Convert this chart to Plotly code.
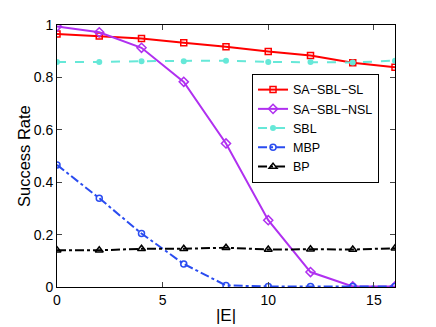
import plotly.graph_objects as go

E = [0, 2, 4, 6, 8, 10, 12, 14, 16]
sa_sbl_sl = [0.966, 0.958, 0.948, 0.932, 0.917, 0.899, 0.884, 0.856, 0.839]
sa_sbl_nsl = [0.994, 0.972, 0.913, 0.783, 0.548, 0.255, 0.057, 0.002, 0.002]
sbl = [0.859, 0.859, 0.862, 0.862, 0.864, 0.859, 0.859, 0.857, 0.864]
mbp = [0.466, 0.339, 0.204, 0.088, 0.006, 0.002, 0.002, 0.002, 0.002]
bp = [0.140, 0.140, 0.146, 0.146, 0.150, 0.143, 0.144, 0.143, 0.148]

xticks = [0, 5, 10, 15]
yticks = [0, 0.2, 0.4, 0.6, 0.8, 1]
ytick_text = ["0", "0.2", "0.4", "0.6", "0.8", "1"]

fig = go.Figure()
fig.add_trace(go.Scatter(x=E, y=sa_sbl_sl, name="SA\u2212SBL\u2212SL", mode="lines+markers",
                         line=dict(color="#ff0000", width=2),
                         marker=dict(symbol="square-open", size=6, color="#ff0000", line=dict(width=1.5))))
fig.add_trace(go.Scatter(x=E, y=sa_sbl_nsl, name="SA\u2212SBL\u2212NSL", mode="lines+markers",
                         line=dict(color="#b030f0", width=2),
                         marker=dict(symbol="diamond-open", size=7, color="#b030f0", line=dict(width=1.5))))
fig.add_trace(go.Scatter(x=E, y=sbl, name="SBL", mode="lines+markers",
                         line=dict(color="#66e8d8", width=2, dash="dash"),
                         marker=dict(symbol="circle", size=6, color="#66e8d8")))
fig.add_trace(go.Scatter(x=E, y=mbp, name="MBP", mode="lines+markers",
                         line=dict(color="#2a4cf0", width=2, dash="dashdot"),
                         marker=dict(symbol="circle-open", size=6, color="#2a4cf0", line=dict(width=1.5))))
fig.add_trace(go.Scatter(x=E, y=bp, name="BP", mode="lines+markers",
                         line=dict(color="#000000", width=2, dash="dashdot"),
                         marker=dict(symbol="triangle-up-open", size=7, color="#000000", line=dict(width=1.5))))

fig.update_layout(
    width=428, height=319,
    margin=dict(l=49, r=41, t=17, b=40),
    paper_bgcolor="white", plot_bgcolor="white",
    font=dict(family="Liberation Sans, Arial, sans-serif", size=14, color="black"),
    showlegend=True,
    legend=dict(x=0.577, y=0.813, xanchor="left", yanchor="top",
                bordercolor="black", borderwidth=1, bgcolor="white",
                font=dict(size=12.5), tracegroupgap=0, itemwidth=30,
                entrywidth=96, entrywidthmode="pixels"),
    annotations=[dict(text="Success Rate", xref="paper", yref="paper", x=0, y=0.5,
                      xanchor="center", yanchor="middle", xshift=-33, textangle=-90,
                      showarrow=False, font=dict(size=16.5))],
)
fig.update_xaxes(range=[0, 16], tickvals=xticks, ticks="inside", ticklen=5, mirror="ticks",
                 showline=True, linecolor="black", linewidth=1, showgrid=False, zeroline=False,
                 automargin=False, title=dict(text="|E|", standoff=2))
fig.update_yaxes(range=[0, 1], tickvals=yticks, ticktext=ytick_text, ticks="inside", ticklen=5,
                 mirror="ticks", showline=True, linecolor="black", linewidth=1, showgrid=False,
                 zeroline=False, automargin=False)

fig.write_html("out.html")
